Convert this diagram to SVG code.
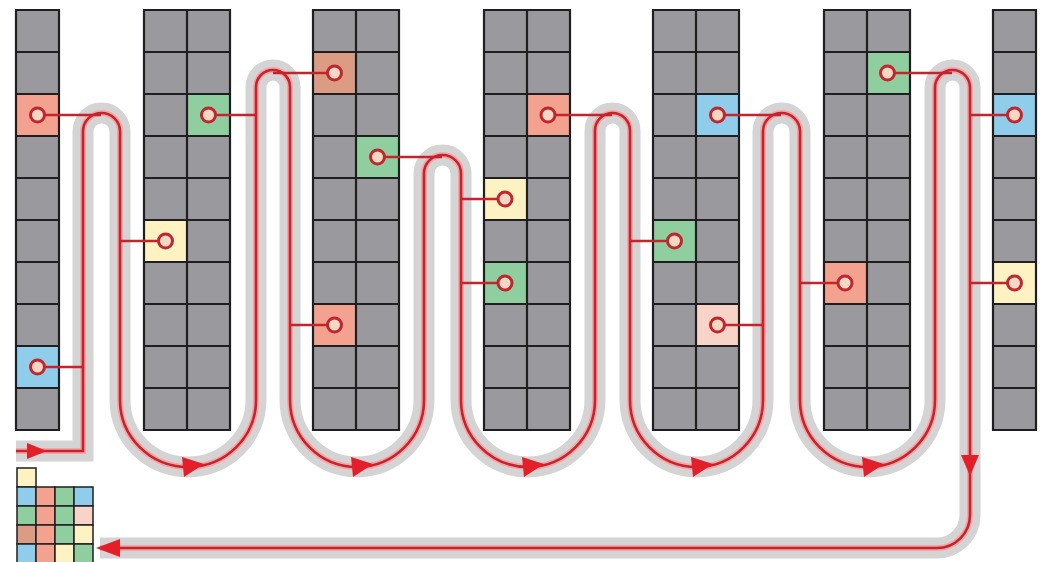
<svg xmlns="http://www.w3.org/2000/svg" xmlns:xlink="http://www.w3.org/1999/xlink" width="1045" height="562" viewBox="0 0 1045 562">
<style>
.bg{fill:#9a9a9e}
.grid{fill:none;stroke:#1f1f22;stroke-width:2.2}
.sal{fill:#f3a28f}
.brn{fill:#dc9c84}
.grn{fill:#8fcf9f}
.blu{fill:#8fcdea}
.yel{fill:#fdf2c2}
.pnk{fill:#f8d3c8}
.halo{fill:none;stroke:#d4d4d4;stroke-width:21;stroke-linejoin:miter}
.glow{fill:none;stroke:#f4a6a6;stroke-width:6}
.line{fill:none;stroke:#c4242d;stroke-width:2.6}
.pick{stroke:#c4242d;stroke-width:2.4;fill:none}
.pt{fill:#f5d8c4;stroke:#bf262e;stroke-width:3}
.arr{fill:#e3202a}
.lg{stroke:#1f1f22;stroke-width:1.5}
</style>
<defs>
<path id="route" d="M 16 451 H 83 V 131.5 A 18.5 18.5 0 0 1 120 131.5 V 400 A 68 67 0 0 0 256 400 V 87 A 17 17 0 0 1 290 87 V 400 A 67 67 0 0 0 424 400 V 173.5 A 18.5 18.5 0 0 1 461 173.5 V 400 A 67 67 0 0 0 595 400 V 130.5 A 17.5 17.5 0 0 1 630 130.5 V 400 A 66.5 67 0 0 0 763 400 V 131.5 A 18.5 18.5 0 0 1 800 131.5 V 400 A 67.5 67 0 0 0 935 400 V 87.5 A 17.5 17.5 0 0 1 970 87.5 V 515 A 33 33 0 0 1 937 548 H 100"/>
</defs>

<g id="shelf0">
<rect class="bg" x="16" y="10" width="43" height="420"/>
<rect class="sal" x="16" y="94" width="43" height="42"/>
<rect class="blu" x="16" y="346" width="43" height="42"/>
<path class="grid" d="M16 10 H59 V430 H16 Z M16 52 H59 M16 94 H59 M16 136 H59 M16 178 H59 M16 220 H59 M16 262 H59 M16 304 H59 M16 346 H59 M16 388 H59"/>
</g>
<g id="shelf1">
<rect class="bg" x="144" y="10" width="86" height="420"/>
<rect class="grn" x="187" y="94" width="43" height="42"/>
<rect class="yel" x="144" y="220" width="43" height="42"/>
<path class="grid" d="M144 10 H230 V430 H144 Z M187 10 V430 M144 52 H230 M144 94 H230 M144 136 H230 M144 178 H230 M144 220 H230 M144 262 H230 M144 304 H230 M144 346 H230 M144 388 H230"/>
</g>
<g id="shelf2">
<rect class="bg" x="313" y="10" width="86" height="420"/>
<rect class="brn" x="313" y="52" width="43" height="42"/>
<rect class="grn" x="356" y="136" width="43" height="42"/>
<rect class="sal" x="313" y="304" width="43" height="42"/>
<path class="grid" d="M313 10 H399 V430 H313 Z M356 10 V430 M313 52 H399 M313 94 H399 M313 136 H399 M313 178 H399 M313 220 H399 M313 262 H399 M313 304 H399 M313 346 H399 M313 388 H399"/>
</g>
<g id="shelf3">
<rect class="bg" x="484" y="10" width="86" height="420"/>
<rect class="sal" x="527" y="94" width="43" height="42"/>
<rect class="yel" x="484" y="178" width="43" height="42"/>
<rect class="grn" x="484" y="262" width="43" height="42"/>
<path class="grid" d="M484 10 H570 V430 H484 Z M527 10 V430 M484 52 H570 M484 94 H570 M484 136 H570 M484 178 H570 M484 220 H570 M484 262 H570 M484 304 H570 M484 346 H570 M484 388 H570"/>
</g>
<g id="shelf4">
<rect class="bg" x="653" y="10" width="86" height="420"/>
<rect class="blu" x="696" y="94" width="43" height="42"/>
<rect class="grn" x="653" y="220" width="43" height="42"/>
<rect class="pnk" x="696" y="304" width="43" height="42"/>
<path class="grid" d="M653 10 H739 V430 H653 Z M696 10 V430 M653 52 H739 M653 94 H739 M653 136 H739 M653 178 H739 M653 220 H739 M653 262 H739 M653 304 H739 M653 346 H739 M653 388 H739"/>
</g>
<g id="shelf5">
<rect class="bg" x="824" y="10" width="86" height="420"/>
<rect class="grn" x="867" y="52" width="43" height="42"/>
<rect class="sal" x="824" y="262" width="43" height="42"/>
<path class="grid" d="M824 10 H910 V430 H824 Z M867 10 V430 M824 52 H910 M824 94 H910 M824 136 H910 M824 178 H910 M824 220 H910 M824 262 H910 M824 304 H910 M824 346 H910 M824 388 H910"/>
</g>
<g id="shelf6">
<rect class="bg" x="993" y="10" width="43" height="420"/>
<rect class="blu" x="993" y="94" width="43" height="42"/>
<rect class="yel" x="993" y="262" width="43" height="42"/>
<path class="grid" d="M993 10 H1036 V430 H993 Z M993 52 H1036 M993 94 H1036 M993 136 H1036 M993 178 H1036 M993 220 H1036 M993 262 H1036 M993 304 H1036 M993 346 H1036 M993 388 H1036"/>
</g>

<g id="connectors">
<use xlink:href="#route" href="#route" class="halo"/>
<use xlink:href="#route" href="#route" class="glow"/>
<use xlink:href="#route" href="#route" class="line"/>
<path class="pick" d="M45 115 H101 M45 367 H83 M200 115 H256 M173 241 H120 M341 73 H273 M385 157 H442 M341 325 H290 M555 115 H612 M512 199 H461 M512 283 H461 M725 115 H781 M667 241 H630 M710 325 H763 M895 73 H952 M837 283 H800 M1007 115 H970 M1007 283 H970"/>
<polygon class="arr" points="27,443 47,451 27,459"/>
<polygon class="arr" points="182,457 204,464 184,477"/>
<polygon class="arr" points="351,457 373,464 353,477"/>
<polygon class="arr" points="522,457 544,464 524,477"/>
<polygon class="arr" points="691,457 713,464 693,477"/>
<polygon class="arr" points="862,457 884,464 864,477"/>
<polygon class="arr" points="961,455 979,455 970,476"/>
<polygon class="arr" points="120,539 120,557 96,548"/>
</g>

<g id="picks">
<circle class="pt" cx="37.5" cy="115" r="7"/>
<circle class="pt" cx="37.5" cy="367" r="7"/>
<circle class="pt" cx="208.5" cy="115" r="7"/>
<circle class="pt" cx="165.5" cy="241" r="7"/>
<circle class="pt" cx="334.5" cy="73" r="7"/>
<circle class="pt" cx="377.5" cy="157" r="7"/>
<circle class="pt" cx="334.5" cy="325" r="7"/>
<circle class="pt" cx="548" cy="115" r="7"/>
<circle class="pt" cx="505" cy="199" r="7"/>
<circle class="pt" cx="505" cy="283" r="7"/>
<circle class="pt" cx="717.5" cy="115" r="7"/>
<circle class="pt" cx="674.5" cy="241" r="7"/>
<circle class="pt" cx="717.5" cy="325" r="7"/>
<circle class="pt" cx="887.5" cy="73" r="7"/>
<circle class="pt" cx="845" cy="283" r="7"/>
<circle class="pt" cx="1014.5" cy="115" r="7"/>
<circle class="pt" cx="1014.5" cy="283" r="7"/>
</g>

<g id="legend">
<rect class="lg yel" x="17" y="468" width="19" height="19"/>
<rect class="lg blu" x="17" y="487" width="19" height="19"/>
<rect class="lg sal" x="36" y="487" width="19" height="19"/>
<rect class="lg grn" x="55" y="487" width="19" height="19"/>
<rect class="lg blu" x="74" y="487" width="19" height="19"/>
<rect class="lg grn" x="17" y="506" width="19" height="19"/>
<rect class="lg sal" x="36" y="506" width="19" height="19"/>
<rect class="lg grn" x="55" y="506" width="19" height="19"/>
<rect class="lg pnk" x="74" y="506" width="19" height="19"/>
<rect class="lg brn" x="17" y="525" width="19" height="19"/>
<rect class="lg sal" x="36" y="525" width="19" height="19"/>
<rect class="lg grn" x="55" y="525" width="19" height="19"/>
<rect class="lg yel" x="74" y="525" width="19" height="19"/>
<rect class="lg blu" x="17" y="544" width="19" height="19"/>
<rect class="lg sal" x="36" y="544" width="19" height="19"/>
<rect class="lg yel" x="55" y="544" width="19" height="19"/>
<rect class="lg grn" x="74" y="544" width="19" height="19"/>
</g>
</svg>
